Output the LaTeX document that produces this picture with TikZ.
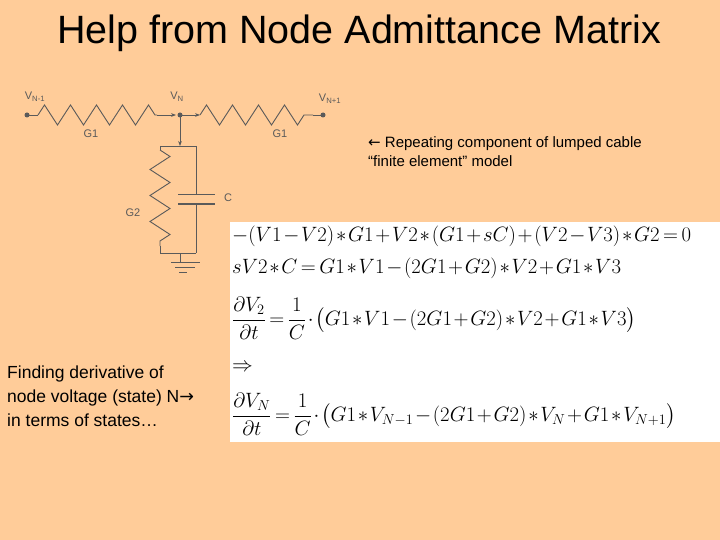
\documentclass[tikz,border=0pt]{standalone}
\usepackage{fontspec}
\setmainfont{Liberation Sans}
\usepackage{amsmath}
\usetikzlibrary{arrows.meta,decorations.pathmorphing}
\definecolor{bg}{RGB}{255,204,153}
\definecolor{wire}{RGB}{90,90,90}
\newcommand{\tightmath}{\medmuskip=1.5mu\relax\thickmuskip=3mu\relax}
\tikzset{wirestyle/.style={draw=wire,line width=0.9pt},
 res/.style={wirestyle,decorate,decoration={zigzag,amplitude=10pt,segment length=26pt}},
 lbl/.style={font=\fontsize{11}{12}\selectfont,text=wire,inner sep=0pt},
 eq/.style={anchor=west,inner sep=0pt,font=\fontsize{20}{22}\selectfont}}
\begin{document}
\begin{tikzpicture}[x=1pt,y=-1pt]
\fill[bg] (0,0) rectangle (720,540);
\useasboundingbox (0,0) rectangle (720,540);
\node[font=\fontsize{39.5}{42}\selectfont] (title) at (359,33) {Help from Node Admittance Matrix};
% circuit
\coordinate (L) at (27,115); \coordinate (N) at (180,115); \coordinate (R) at (323,115);
\fill[wire] (L) circle (2.5); \fill[wire] (R) circle (2.5); \fill[wire] (N) circle (2.5);
\coordinate (l1) at (38,115); \coordinate (l2) at (157,115);
\coordinate (r1) at (200,115); \coordinate (r2) at (313,115);
\draw[wirestyle] (L) -- (l1); \draw[res] (l1) -- (l2); \draw[wirestyle,-{Stealth[length=5pt]}] (l2) -- (176,115); 
\draw[wirestyle,-{Stealth[length=5pt]}] (N) -- (r1); \draw[res] (r1) -- (r2); \draw[wirestyle] (r2) -- (R);
\draw[wirestyle,-{Stealth[length=5pt]}] (N) -- (180,146);
\coordinate (tl) at (160,146); \coordinate (tr) at (196,146);
\coordinate (bl) at (160,253); \coordinate (br) at (196,253);
\draw[wirestyle] (tl) -- (tr);
\draw[wirestyle] (tl) -- (160,150); \draw[res] (160,150) -- (160,246); \draw[wirestyle] (160,246) -- (bl);
\draw[wirestyle] (tr) -- (196,194); \draw[wirestyle] (178,194) -- (215,194);
\draw[draw=wire,line width=1.8pt] (178,204) -- (215,204); \draw[wirestyle] (196,204) -- (br);
\draw[wirestyle] (bl) -- (br); \draw[wirestyle] (180,253) -- (180,262);
\draw[wirestyle] (171,262) -- (200,262); \draw[wirestyle] (175,267) -- (195,267); \draw[wirestyle] (179,272) -- (187,272);
\node[lbl] (vl) at (35,97) {V\textsubscript{N-1}};
\node[lbl] (vn) at (177,97) {V\textsubscript{N}};
\node[lbl] (vr) at (330,99) {V\textsubscript{N+1}};
\node[lbl] (g1a) at (91,134) {G1}; \node[lbl] (g1b) at (280,134) {G1};
\node[lbl] (g2) at (133,213) {G2}; \node[lbl] (c) at (228,198) {C};
\node[anchor=north west,font=\fontsize{15}{19}\selectfont,align=left,inner sep=0pt] (rep) at (368,136) {{\fontspec{DejaVu Sans}←} Repeating component of lumped cable\\“finite element” model};
\node[anchor=north west,font=\fontsize{17.5}{24}\selectfont,align=left,inner sep=0pt] (find) at (7,366) {Finding derivative of\\node voltage (state) N{\fontspec{DejaVu Sans}→}\\in terms of states…};
\fill[white] (230,222) rectangle (720,442);
\node[eq] (e1) at (232,236) {$\tightmath-(V1-V2)*G1+V2*(G1+sC)+(V2-V3)*G2=0$};
\node[eq] (e2) at (232,268) {$\tightmath sV2*C=G1*V1-(2G1+G2)*V2+G1*V3$};
\node[eq] (e3) at (232,318) {$\tightmath\dfrac{\partial V_2}{\partial t}=\dfrac{1}{C}\cdot\bigl(G1*V1-(2G1+G2)*V2+G1*V3\bigr)$};
\node[eq] (e4) at (232,368) {$\Rightarrow$};
\node[eq] (e5) at (232,414) {$\tightmath\dfrac{\partial V_N}{\partial t}=\dfrac{1}{C}\cdot\bigl(G1*V_{N-1}-(2G1+G2)*V_N+G1*V_{N+1}\bigr)$};
\end{tikzpicture}
\end{document}
